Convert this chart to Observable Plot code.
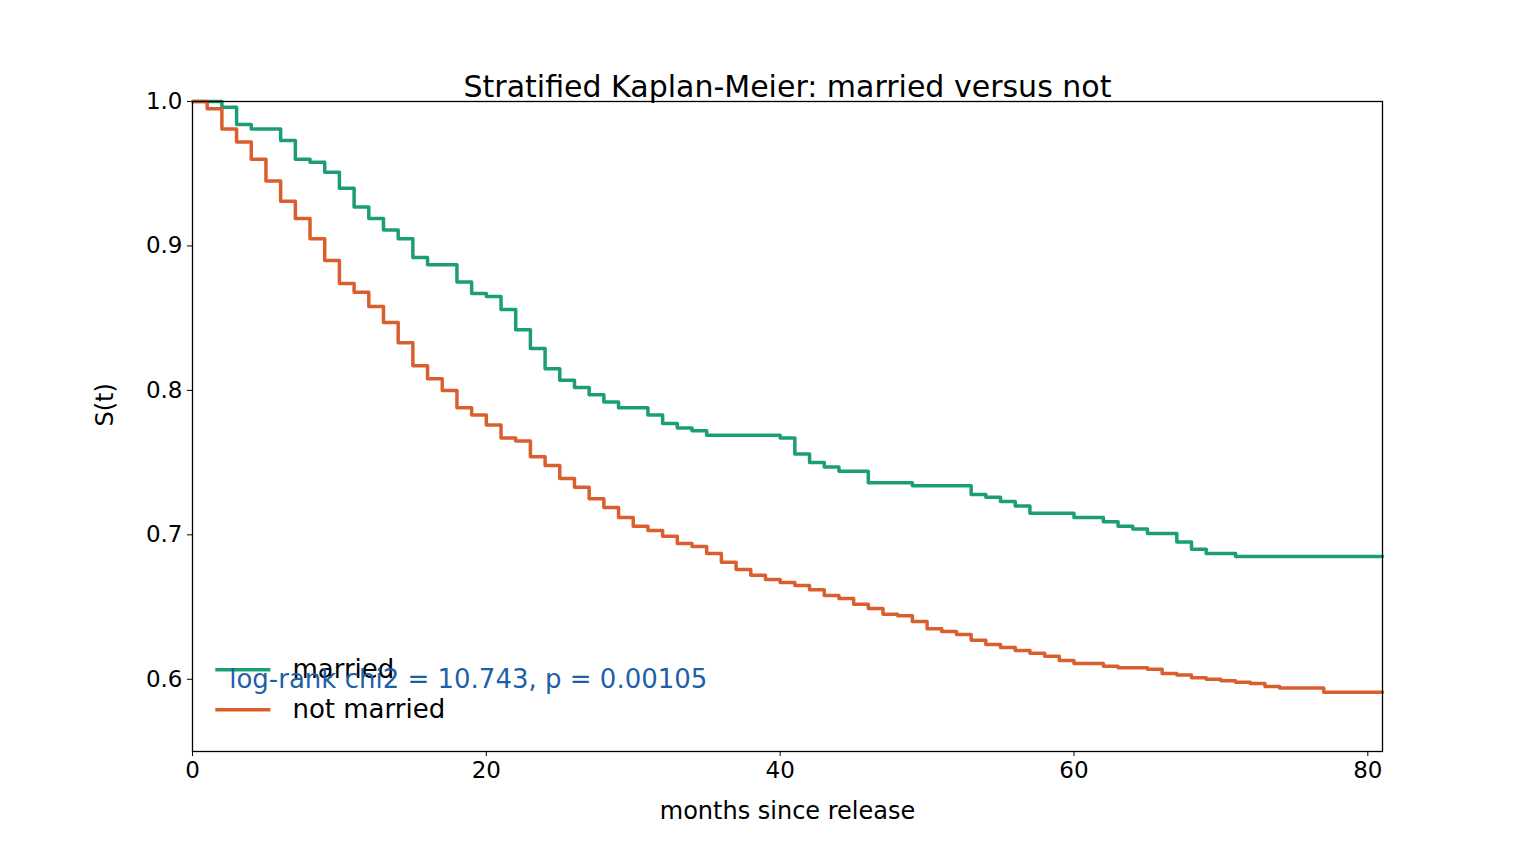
<!DOCTYPE html>
<html><head><meta charset="utf-8">
<script src="https://cdn.jsdelivr.net/npm/d3@7"></script>
<script src="https://cdn.jsdelivr.net/npm/@observablehq/plot@0.6"></script>
<style>body{margin:0;background:#fff;font-family:"DejaVu Sans",sans-serif}</style>
</head><body><div id="chart"></div>
<script>
const marriedT = [0,2,3,4,6,7,8,9,10,11,12,13,14,15,16,18,19,20,21,22,23,24,25,26,27,28,29,31,32,33,34,35,40,41,42,43,44,46,49,53,54,55,56,57,60,62,63,64,65,67,68,69,71,81];
const marriedS = [1.0,0.996,0.984,0.981,0.973,0.960,0.958,0.951,0.940,0.927,0.919,0.911,0.905,0.892,0.887,0.875,0.867,0.865,0.856,0.842,0.829,0.815,0.807,0.802,0.797,0.792,0.788,0.783,0.777,0.774,0.772,0.769,0.767,0.756,0.750,0.747,0.744,0.736,0.734,0.728,0.726,0.723,0.720,0.715,0.712,0.709,0.706,0.704,0.701,0.695,0.690,0.687,0.685,0.685];
const notT = [0,1,2,3,4,5,6,7,8,9,10,11,12,13,14,15,16,17,18,19,20,21,22,23,24,25,26,27,28,29,30,31,32,33,34,35,36,37,38,39,40,41,42,43,44,45,46,47,48,49,50,51,52,53,54,55,56,57,58,59,60,62,63,65,66,67,68,69,70,71,72,73,74,77,81];
const notS = [1.0,0.995,0.981,0.972,0.960,0.945,0.931,0.919,0.905,0.890,0.874,0.868,0.858,0.847,0.833,0.817,0.808,0.800,0.788,0.783,0.776,0.767,0.765,0.754,0.748,0.739,0.733,0.725,0.719,0.712,0.706,0.703,0.699,0.694,0.692,0.687,0.681,0.676,0.672,0.669,0.667,0.665,0.662,0.658,0.656,0.652,0.649,0.645,0.644,0.640,0.635,0.633,0.631,0.627,0.624,0.622,0.620,0.618,0.616,0.613,0.611,0.609,0.608,0.607,0.604,0.603,0.601,0.600,0.599,0.598,0.597,0.595,0.594,0.591,0.591];
const groups = ["married","not married"];
const xTicks = [0,20,40,60,80];
const yTicks = [0.6,0.7,0.8,0.9,1.0];
const titleText = "Stratified Kaplan-Meier: married versus not";
const statText = "log-rank chi2 = 10.743, p = 0.00105";
const xLabel = "months since release";
const yLabel = "S(t)";

const data = [
  ...marriedT.map((t,i)=>({t, s: marriedS[i], g: groups[0]})),
  ...notT.map((t,i)=>({t, s: notS[i], g: groups[1]}))
];
const legend = groups.map((g,i)=>({g, y: [0.6066,0.5789][i]}));
const col = {married:"#1b9e77","not married":"#d95f2f"};

const plot = Plot.plot({
  width: 1536, height: 844,
  marginTop: 101, marginBottom: 93, marginLeft: 192, marginRight: 154,
  style: {fontFamily: "DejaVu Sans, sans-serif", fontSize: "23px", color: "#000"},
  x: {domain: [0,81]},
  y: {domain: [0.55,1.0]},
  marks: [
    Plot.axisX({ticks: xTicks, tickSize: 5, tickPadding: 5, fontSize: 23, label: null}),
    Plot.axisY({ticks: yTicks, tickFormat: d3.format(".1f"), tickSize: 5, tickPadding: 5, fontSize: 23, label: null}),
    Plot.line(data, {x: "t", y: "s", z: "g", stroke: d => col[d.g], strokeWidth: 3.5, curve: "step-after"}),
    Plot.link(legend, {x1: 1.55, x2: 5.3, y1: "y", y2: "y", stroke: d => col[d.g], strokeWidth: 3.5}),
    Plot.text(legend, {x: 6.8, y: "y", text: "g", textAnchor: "start", fontSize: 26, fill: "#000"}),
    Plot.text([statText], {x: 2.5, y: 0.6, text: d => d, textAnchor: "start", fontSize: 26, fill: "#1f5fa8"}),
    Plot.text([titleText], {frameAnchor: "top", dy: -26, text: d => d, fontSize: 30, fill: "#000"}),
    Plot.text([xLabel], {frameAnchor: "bottom", dy: 67, text: d => d, fontSize: 24, fill: "#000"}),
    Plot.text([yLabel], {frameAnchor: "left", dx: -87, rotate: -90, text: d => d, fontSize: 24, fill: "#000"}),
    Plot.frame({stroke: "#000", strokeWidth: 1.3})
  ]
});
document.getElementById("chart").appendChild(plot);
</script></body></html>
